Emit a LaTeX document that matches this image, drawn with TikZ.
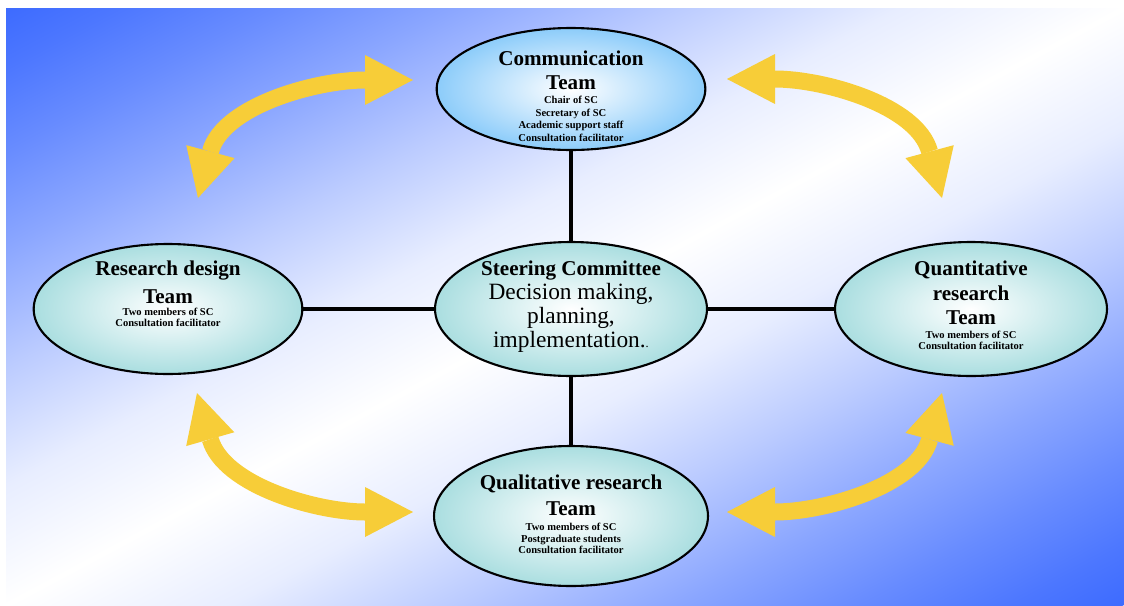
\documentclass[tikz,border=0pt]{standalone}
\usepackage{fontspec}
\setmainfont{Liberation Serif}
\usetikzlibrary{shapes.geometric}
\usetikzlibrary{arrows.meta}
\definecolor{bgblue}{RGB}{61,107,255}
\definecolor{teamteal}{RGB}{170,222,224}
\definecolor{teamsky}{RGB}{140,204,250}
\definecolor{arrowgold}{RGB}{247,205,56}
\pgfdeclareverticalshading{bgfade}{100bp}{color(0bp)=(bgblue); color(25bp)=(bgblue); color(27.5bp)=(bgblue!92!white); color(31bp)=(bgblue!78!white); color(35bp)=(bgblue!60!white); color(40bp)=(bgblue!35!white); color(45bp)=(bgblue!12!white); color(50bp)=(white); color(55bp)=(bgblue!12!white); color(60bp)=(bgblue!35!white); color(65bp)=(bgblue!60!white); color(69bp)=(bgblue!78!white); color(72.5bp)=(bgblue!92!white); color(75bp)=(bgblue); color(100bp)=(bgblue)}
\newcommand{\teamttl}[2][13.7]{{\centering\fontsize{12}{#1}\selectfont\bfseries\spaceskip=\fontdimen2\font\relax #2\par}}
\newcommand{\teammem}[2][7.1]{{\centering\fontsize{6}{#1}\selectfont\bfseries\spaceskip=\fontdimen2\font\relax #2\par}}
\tikzset{
    teamnode/.style = {ellipse, line width=1.2pt, draw=black, align=center, inner sep=0pt, text width=3.8cm, text height=0pt, inner color=white, outer color=teamteal},
    teamnodeb/.style = {teamnode, outer color=teamsky},
    edgen/.style = {-, line width=2.8pt, black},
    yhead/.tip = {Triangle[width=1cm, length=0.96cm, line width=0pt]},
    arrowy/.style = {yhead-yhead, line width=0.34cm, arrowgold}
}

\begin{document}
\begin{tikzpicture}[x=0.02cm, y=0.02cm]
  \useasboundingbox (0,0) rectangle (1124,-605);
  % background: a turned square, stretched so the pale band runs corner to corner
  \begin{scope}
    \clip (6,-8) rectangle (1124,-605);
    \begin{scope}[transform canvas={shift={(565,-306.5)}, xscale=11.18, yscale=5.97, rotate=45}]
      \shade[shading=bgfade] (-70.71,-70.71) rectangle (70.71,70.71);
    \end{scope}
  \end{scope}
  % teams
  \node[teamnodeb, minimum width=5.36cm, minimum height=2.44cm, text depth=27.3pt] (ct) at (571,-89)
    {\teamttl{Communication\\ Team}\vspace{1.3pt}\teammem{Chair of SC\\ Secretary of SC\\ Academic support staff\\ Consultation facilitator}};
  \node[teamnode, minimum width=5.44cm, minimum height=2.68cm, text depth=38.7pt] (sc) at (571,-309)
    {\teamttl{Steering Committee}{\centering\fontsize{13.3}{13.7}\selectfont Decision making,\\ planning,\\ implementation.{\fontsize{7}{7}\selectfont .}\par}};
  \node[teamnode, minimum width=5.36cm, minimum height=2.6cm, text depth=38.7pt] (rdt) at (168,-309)
    {\teamttl[16.5]{Research design\\ Team}\vspace{0.2pt}\teammem[6.3]{Two members of SC\\ Consultation facilitator}};
  \node[teamnode, minimum width=5.44cm, minimum height=2.68cm, text depth=37.6pt] (qnt) at (971,-309)
    {\teamttl[13.9]{Quantitative\\ research\\ Team}\vspace{1.7pt}\teammem[6.3]{Two members of SC\\ Consultation facilitator}};
  \node[teamnode, minimum width=5.48cm, minimum height=2.8cm, text depth=30.7pt] (qlt) at (571,-516)
    {\teamttl[15.2]{Qualitative research\\ Team}\vspace{1.9pt}\teammem[6.6]{Two members of SC\\ Postgraduate students\\ Consultation facilitator}};
  % links
  \draw[edgen] (ct) -- (sc);
  \draw[edgen] (rdt) -- (sc);
  \draw[edgen] (sc) -- (qnt);
  \draw[edgen] (sc) -- (qlt);
  % yellow arrows
  \coordinate (p1) at (198,-198);
  \coordinate (p2) at (413,-80);
  \coordinate (p3) at (727,-79);
  \coordinate (p4) at (942,-198);
  \coordinate (p5) at (197,-393);
  \coordinate (p6) at (413,-512);
  \coordinate (p7) at (727,-512);
  \coordinate (p8) at (942,-393);
  \draw[arrowy] (p1) to[out=75, in=180] (p2);
  \draw[arrowy] (p3) to[out=0, in=105] (p4);
  \draw[arrowy] (p5) to[out=-74, in=180] (p6);
  \draw[arrowy] (p7) to[out=0, in=255] (p8);
\end{tikzpicture}
\end{document}
